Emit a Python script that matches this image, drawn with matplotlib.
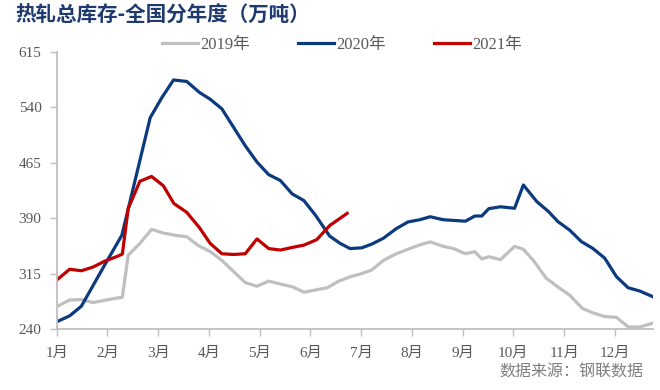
import matplotlib
matplotlib.use("Agg")
import matplotlib.pyplot as plt
from matplotlib.lines import Line2D

plt.rcParams['font.family'] = ['Liberation Serif', 'Noto Sans CJK SC', 'DejaVu Sans']

title = "热轧总库存-全国分年度（万吨）"
source = "数据来源：钢联数据"
months = ["1月", "2月", "3月", "4月", "5月", "6月", "7月", "8月", "9月", "10月", "11月", "12月"]
yticks = [240, 315, 390, 465, 540, 615]

# x positions in weeks from 1 Jan
x2019 = [0, 1.1, 2.1, 3.1, 4.1, 5.1, 5.6, 6.1, 7.1, 8.1, 9.1, 10.1, 11.1, 12.1, 13.1, 14.1,
         15.1, 16.1, 17.1, 18.1, 19.1, 20.1, 21.1, 22.1, 23.1, 24.1, 25.1, 26.0, 26.9, 27.9,
         29.0, 30.0, 31.0, 31.9, 33.0, 33.9, 34.9, 35.7, 36.3, 36.9, 37.9, 39.1, 39.85, 40.7,
         41.8, 42.8, 43.8, 44.9, 45.8, 46.8, 47.8, 48.8, 49.8, 50.9]
y2019 = [270.5, 279.5, 280, 276, 279, 282, 283, 340, 356, 375, 370, 367, 365, 353, 345, 333,
         318, 303, 298, 305, 301, 297.5, 290, 293, 296, 305, 311, 315, 320, 333,
         342, 348, 354, 358, 352, 349, 342, 344.7, 335, 338, 334, 352, 348, 333,
         309, 297, 286, 268, 262, 257, 256, 243, 243, 248]

x2020 = [0, 1.1, 2.1, 4.1, 5.56, 7.98, 8.97, 9.97, 11.1, 12.2, 13.1, 14.1, 15.1, 16.1, 17.1,
         18.1, 19.1, 20.1, 21.1, 22.1, 23.3, 24.2, 25.05, 26.05, 26.9, 27.9, 29.0, 30.0, 31.0,
         31.9, 33.0, 34.9, 35.7, 36.3, 36.9, 37.9, 39.1, 39.85, 41.0, 42.0, 42.8, 43.8, 44.8,
         45.8, 46.8, 47.8, 48.8, 49.8, 50.9]
y2020 = [250, 258, 271, 327, 367, 526, 553, 577, 575, 560, 551, 538, 513, 488, 466,
         449, 441, 423, 414, 394, 366, 356, 349, 350, 355, 363, 376, 385, 388,
         392, 388, 386, 393, 393, 403, 405.5, 403.5, 435, 412.5, 399, 385.5, 374, 358.5,
         349, 336, 311, 296, 291.5, 284]

x2021 = [0, 1.1, 2.1, 3.1, 4.1, 5.1, 5.6, 6.1, 7.1, 8.1, 9.1, 10.0, 11.1, 12.2, 13.1, 14.1,
         15.1, 16.1, 17.1, 18.1, 19.1, 20.1, 21.1, 22.2, 23.3, 24.8]
y2021 = [306.5, 321, 319, 324, 332, 338, 341.5, 403, 440, 446.5, 434, 410, 398, 377, 356, 342,
         341, 342, 362, 349, 347, 350.5, 353.6, 361, 380, 396.6]

series = [("2019年", x2019, y2019, "#BFBFBF"),
          ("2020年", x2020, y2020, "#0B3A7E"),
          ("2021年", x2021, y2021, "#C00000")]

fig = plt.figure(figsize=(6.6, 3.9), dpi=100)
ax = fig.add_axes([0.086, 0.156, 0.903, 0.711])

for name, xs, ys, c in series:
    ax.plot(xs, ys, color=c, lw=2.3, label=name, solid_joinstyle='round')

ax.set_xlim(0, 50.9)
ax.set_ylim(240, 615)
ax.set_yticks(yticks)
ax.set_yticklabels([str(v) for v in yticks])
ax.set_xticks([i * 52 / 12 for i in range(12)])
ax.set_xticklabels(months)

for s in ["top", "right"]:
    ax.spines[s].set_visible(False)
for s in ["left", "bottom"]:
    ax.spines[s].set_color("#BFBFBF")
    ax.spines[s].set_linewidth(1.3)
ax.tick_params(axis="both", colors="#BFBFBF", length=5, width=1, labelsize=11,
               labelcolor="#595959")
ax.tick_params(axis="y", pad=6)
ax.tick_params(axis="x", pad=8)

handles = [Line2D([], [], color=c, lw=2.3) for _, _, _, c in series]
fig.legend(handles, [s[0] for s in series], loc="center", bbox_to_anchor=(0.518, 0.885),
           ncol=3, frameon=False, fontsize=12, handlelength=2.15, columnspacing=2.9,
           handletextpad=0.12, labelcolor="#595959")

fig.text(0.023, 0.962, title, fontsize=14.8, fontweight="bold", color="#1F3A6E",
         family=["Noto Sans CJK SC", "DejaVu Sans"], va="center", ha="left")
fig.text(0.975, 0.046, source, fontsize=11.5, color="#7F7F7F",
         family=["Noto Sans CJK SC", "DejaVu Sans"], va="center", ha="right")

fig.savefig("out.png", dpi=100)
